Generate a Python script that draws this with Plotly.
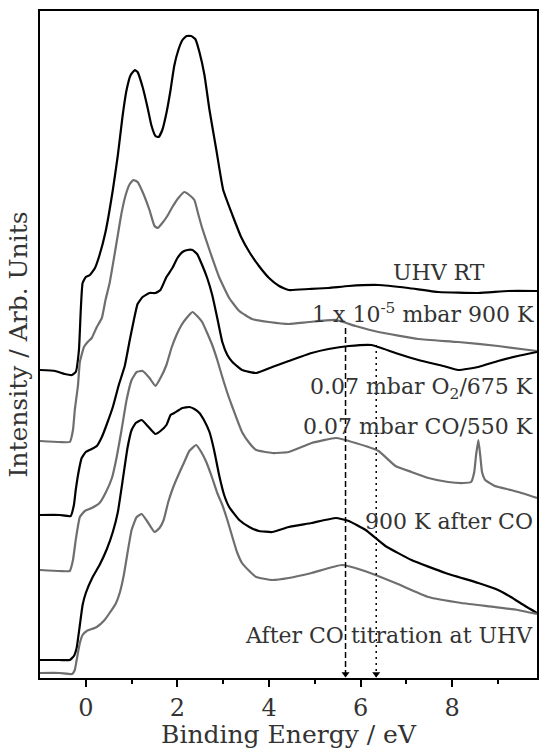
import plotly.graph_objects as go

# ---------------- data (binding energy in eV, intensity in arb. units) ----------------
uhv_rt_e = [-1.00, -0.67, -0.46, -0.30, -0.22, -0.15, -0.11, -0.07, 0.00, 0.09, 0.20, 0.30, 0.43, 0.59, 0.70,
            0.80, 0.89, 0.98, 1.07, 1.13, 1.24, 1.35, 1.43, 1.52, 1.59, 1.67, 1.76, 1.85, 1.93, 2.02, 2.11,
            2.20, 2.30, 2.39, 2.48, 2.59, 2.70, 2.85, 3.00, 3.20, 3.39, 3.57, 3.78, 4.00, 4.22, 4.43, 4.87,
            5.30, 5.74, 6.39, 7.04, 7.70, 8.57, 9.22, 9.85]
uhv_rt_i = [308, 307, 304, 303, 306, 328, 368, 395, 401, 403, 410, 423, 446, 488, 523,
            561, 588, 603, 608, 606, 591, 570, 553, 542, 541, 548, 565, 588, 612, 628, 638,
            642, 642, 639, 626, 603, 568, 528, 488, 463, 441, 426, 412, 400, 392, 388, 389,
            390, 392, 393, 390, 386, 385, 387, 387]

lowp_900_e = [-1.00, -0.57, -0.35, -0.28, -0.24, -0.17, -0.13, -0.04, 0.04, 0.13, 0.24, 0.35, 0.43, 0.52, 0.67,
              0.78, 0.87, 0.96, 1.04, 1.13, 1.24, 1.39, 1.50, 1.57, 1.67, 1.78, 1.89, 2.02, 2.15, 2.26,
              2.37, 2.46, 2.54, 2.70, 2.91, 3.13, 3.35, 3.63, 4.00, 4.43, 4.87, 5.46, 5.89, 6.39, 7.26,
              8.13, 9.00, 9.85]
lowp_900_i = [237, 236, 236, 248, 268, 293, 316, 331, 336, 340, 351, 360, 378, 395, 435,
              465, 483, 494, 498, 496, 486, 468, 452, 450, 455, 462, 471, 480, 486, 483,
              478, 463, 450, 428, 401, 380, 367, 359, 356, 354, 356, 358, 352, 346, 339,
              336, 332, 327]

o2_675_e = [-1.00, -0.57, -0.33, -0.26, -0.22, -0.15, -0.09, 0.00, 0.13, 0.24, 0.35, 0.46, 0.59, 0.72, 0.85,
            0.96, 1.04, 1.13, 1.24, 1.39, 1.52, 1.63, 1.76, 1.89, 2.00, 2.11, 2.22, 2.33, 2.43, 2.54,
            2.65, 2.76, 2.87, 2.98, 3.09, 3.20, 3.41, 3.72, 4.07, 4.43, 4.93, 5.30, 5.74, 6.24, 6.76,
            7.26, 7.80, 8.13, 8.57, 9.00, 9.43, 9.85]
o2_675_i = [163, 163, 162, 173, 188, 208, 220, 226, 229, 232, 241, 254, 271, 293, 312,
            338, 356, 374, 381, 385, 385, 388, 401, 410, 420, 426, 428, 428, 424, 413,
            400, 383, 360, 336, 323, 316, 308, 305, 311, 317, 325, 329, 332, 333, 325,
            318, 312, 308, 311, 317, 322, 326]

co_550_e = [-1.00, -0.57, -0.35, -0.28, -0.22, -0.13, -0.02, 0.13, 0.30, 0.43, 0.57, 0.67, 0.78, 0.89, 1.00,
            1.11, 1.24, 1.39, 1.52, 1.63, 1.76, 1.87, 1.98, 2.09, 2.20, 2.33, 2.43, 2.54, 2.65, 2.76,
            2.87, 2.98, 3.09, 3.20, 3.41, 3.57, 3.72, 4.07, 4.43, 4.93, 5.46, 5.89, 6.39, 6.76, 7.11,
            7.48, 7.91, 8.24, 8.41, 8.48, 8.52, 8.57, 8.61, 8.65, 8.72, 8.93, 9.28, 9.59, 9.85]
co_550_i = [108, 107, 107, 118, 138, 161, 167, 170, 175, 185, 200, 220, 248, 278, 298,
            306, 307, 300, 292, 300, 313, 330, 343, 353, 360, 366, 362, 356, 345, 333,
            318, 301, 285, 271, 246, 235, 228, 225, 226, 235, 240, 235, 227, 212, 206,
            200, 196, 195, 196, 206, 223, 238, 223, 206, 198, 192, 188, 184, 180]

k900_after_co_e = [-1.00, -0.57, -0.35, -0.26, -0.20, -0.13, -0.07, 0.00, 0.15, 0.30, 0.46, 0.59, 0.70, 0.80, 0.91,
                   1.00, 1.09, 1.22, 1.39, 1.52, 1.63, 1.76, 1.85, 1.93, 2.11, 2.26, 2.37, 2.48, 2.59, 2.70,
                   2.80, 2.91, 3.02, 3.13, 3.35, 3.57, 3.78, 4.07, 4.43, 4.93, 5.46, 5.74, 6.11, 6.54, 7.11,
                   7.85, 8.57, 9.00, 9.28, 9.59, 9.85]
k900_after_co_i = [18, 18, 18, 22, 30, 53, 73, 85, 101, 113, 129, 146, 166, 196, 230,
                   248, 255, 258, 250, 244, 247, 253, 263, 265, 270, 271, 269, 265, 257, 246,
                   228, 203, 183, 171, 158, 151, 147, 146, 151, 155, 160, 157, 148, 132, 118,
                   105, 95, 88, 81, 72, 65]

titration_e = [-1.00, -0.57, -0.30, -0.24, -0.20, -0.13, -0.07, 0.02, 0.24, 0.41, 0.52, 0.65, 0.74, 0.83, 0.91,
               1.00, 1.11, 1.22, 1.35, 1.50, 1.61, 1.70, 1.80, 1.91, 2.04, 2.15, 2.26, 2.41, 2.52, 2.63,
               2.76, 2.87, 2.98, 3.09, 3.20, 3.30, 3.41, 3.57, 3.72, 4.07, 4.43, 4.93, 5.59, 6.02, 6.76,
               7.48, 8.20, 8.93, 9.43, 9.85]
titration_i = [5, 5, 4, 8, 18, 35, 43, 47, 51, 58, 65, 74, 85, 103, 125,
               148, 161, 164, 156, 146, 150, 158, 176, 191, 205, 216, 227, 233, 226, 216,
               200, 185, 173, 158, 141, 126, 115, 107, 101, 98, 100, 105, 113, 108, 95,
               81, 75, 71, 68, 64]

series_names = ["UHV RT", "1 x 10<sup>-5</sup> mbar 900 K", "0.07 mbar O<sub>2</sub>/675 K",
                "0.07 mbar CO/550 K", "900 K after CO", "After CO titration at UHV"]
series_e = [uhv_rt_e, lowp_900_e, o2_675_e, co_550_e, k900_after_co_e, titration_e]
series_i = [uhv_rt_i, lowp_900_i, o2_675_i, co_550_i, k900_after_co_i, titration_i]

# label anchor positions (energy, intensity)
label_e = [7.70, 9.83, 9.81, 9.81, 9.81, 9.81]
label_i = [406, 365, 290, 252, 157, 43]

# marker lines (energy, top intensity)
mark_e = [5.67, 6.34]
mark_top = [350, 333]
mark_dash = ["6px,3px", "2px,4px"]

x_ticks = [0, 2, 4, 6, 8]
x_minor = [1, 3, 5, 7, 9]

# ---------------- figure ----------------
BLACK = "#000000"
GRAY = "#6e6e6e"
colors = [BLACK, GRAY, BLACK, GRAY, BLACK, GRAY]
FONT = "DejaVu Serif"
TEXT = "#333333"
ARROW_LIFT = 4  # arrowhead sits just above the axis line

fig = go.Figure()
for e, i, c, n in zip(series_e, series_i, colors, series_names):
    fig.add_trace(go.Scatter(x=e, y=i, mode="lines", name=n,
                             line=dict(color=c, width=2.2, shape="spline", smoothing=0.4),
                             showlegend=False))

for me, mt, md in zip(mark_e, mark_top, mark_dash):
    fig.add_trace(go.Scatter(x=[me, me], y=[mt, 0], mode="lines",
                             line=dict(color=BLACK, width=1.5, dash=md), showlegend=False))
fig.add_trace(go.Scatter(x=mark_e, y=[ARROW_LIFT] * len(mark_e), mode="markers", cliponaxis=False,
                         marker=dict(symbol="triangle-down", size=7, color=BLACK,
                                     line=dict(width=0)),
                         showlegend=False))

for n, le, li in zip(series_names, label_e, label_i):
    fig.add_annotation(x=le, y=li, xref="x", yref="y", text=n, showarrow=False,
                       xanchor="center" if n == "UHV RT" else "right", yanchor="middle",
                       font=dict(family=FONT, size=22, color=TEXT))

fig.update_layout(
    width=540, height=749,
    margin=dict(l=40, r=1, t=11, b=71),
    plot_bgcolor="white", paper_bgcolor="white",
    font=dict(family=FONT, color=TEXT),
    xaxis=dict(range=[-1, 9.85], tickvals=x_ticks, ticks="outside", ticklen=7, tickwidth=1.5,
               tickcolor=BLACK, showline=True, linecolor=BLACK, linewidth=1.5, mirror=True,
               showgrid=False, zeroline=False, tickfont=dict(family=FONT, size=24, color=TEXT),
               minor=dict(tickvals=x_minor, ticks="outside", ticklen=4, tickwidth=1.5, tickcolor=BLACK),
               title=dict(text="Binding Energy / eV", font=dict(family=FONT, size=25, color=TEXT),
                          standoff=2)),
    yaxis=dict(range=[0, 667], showticklabels=False, ticks="", showline=True, linecolor=BLACK,
               linewidth=1.5, mirror=True, showgrid=False, zeroline=False,
               title=dict(text="Intensity / Arb. Units", font=dict(family=FONT, size=25, color=TEXT),
                          standoff=4)),
)

fig.write_html("out.html")
